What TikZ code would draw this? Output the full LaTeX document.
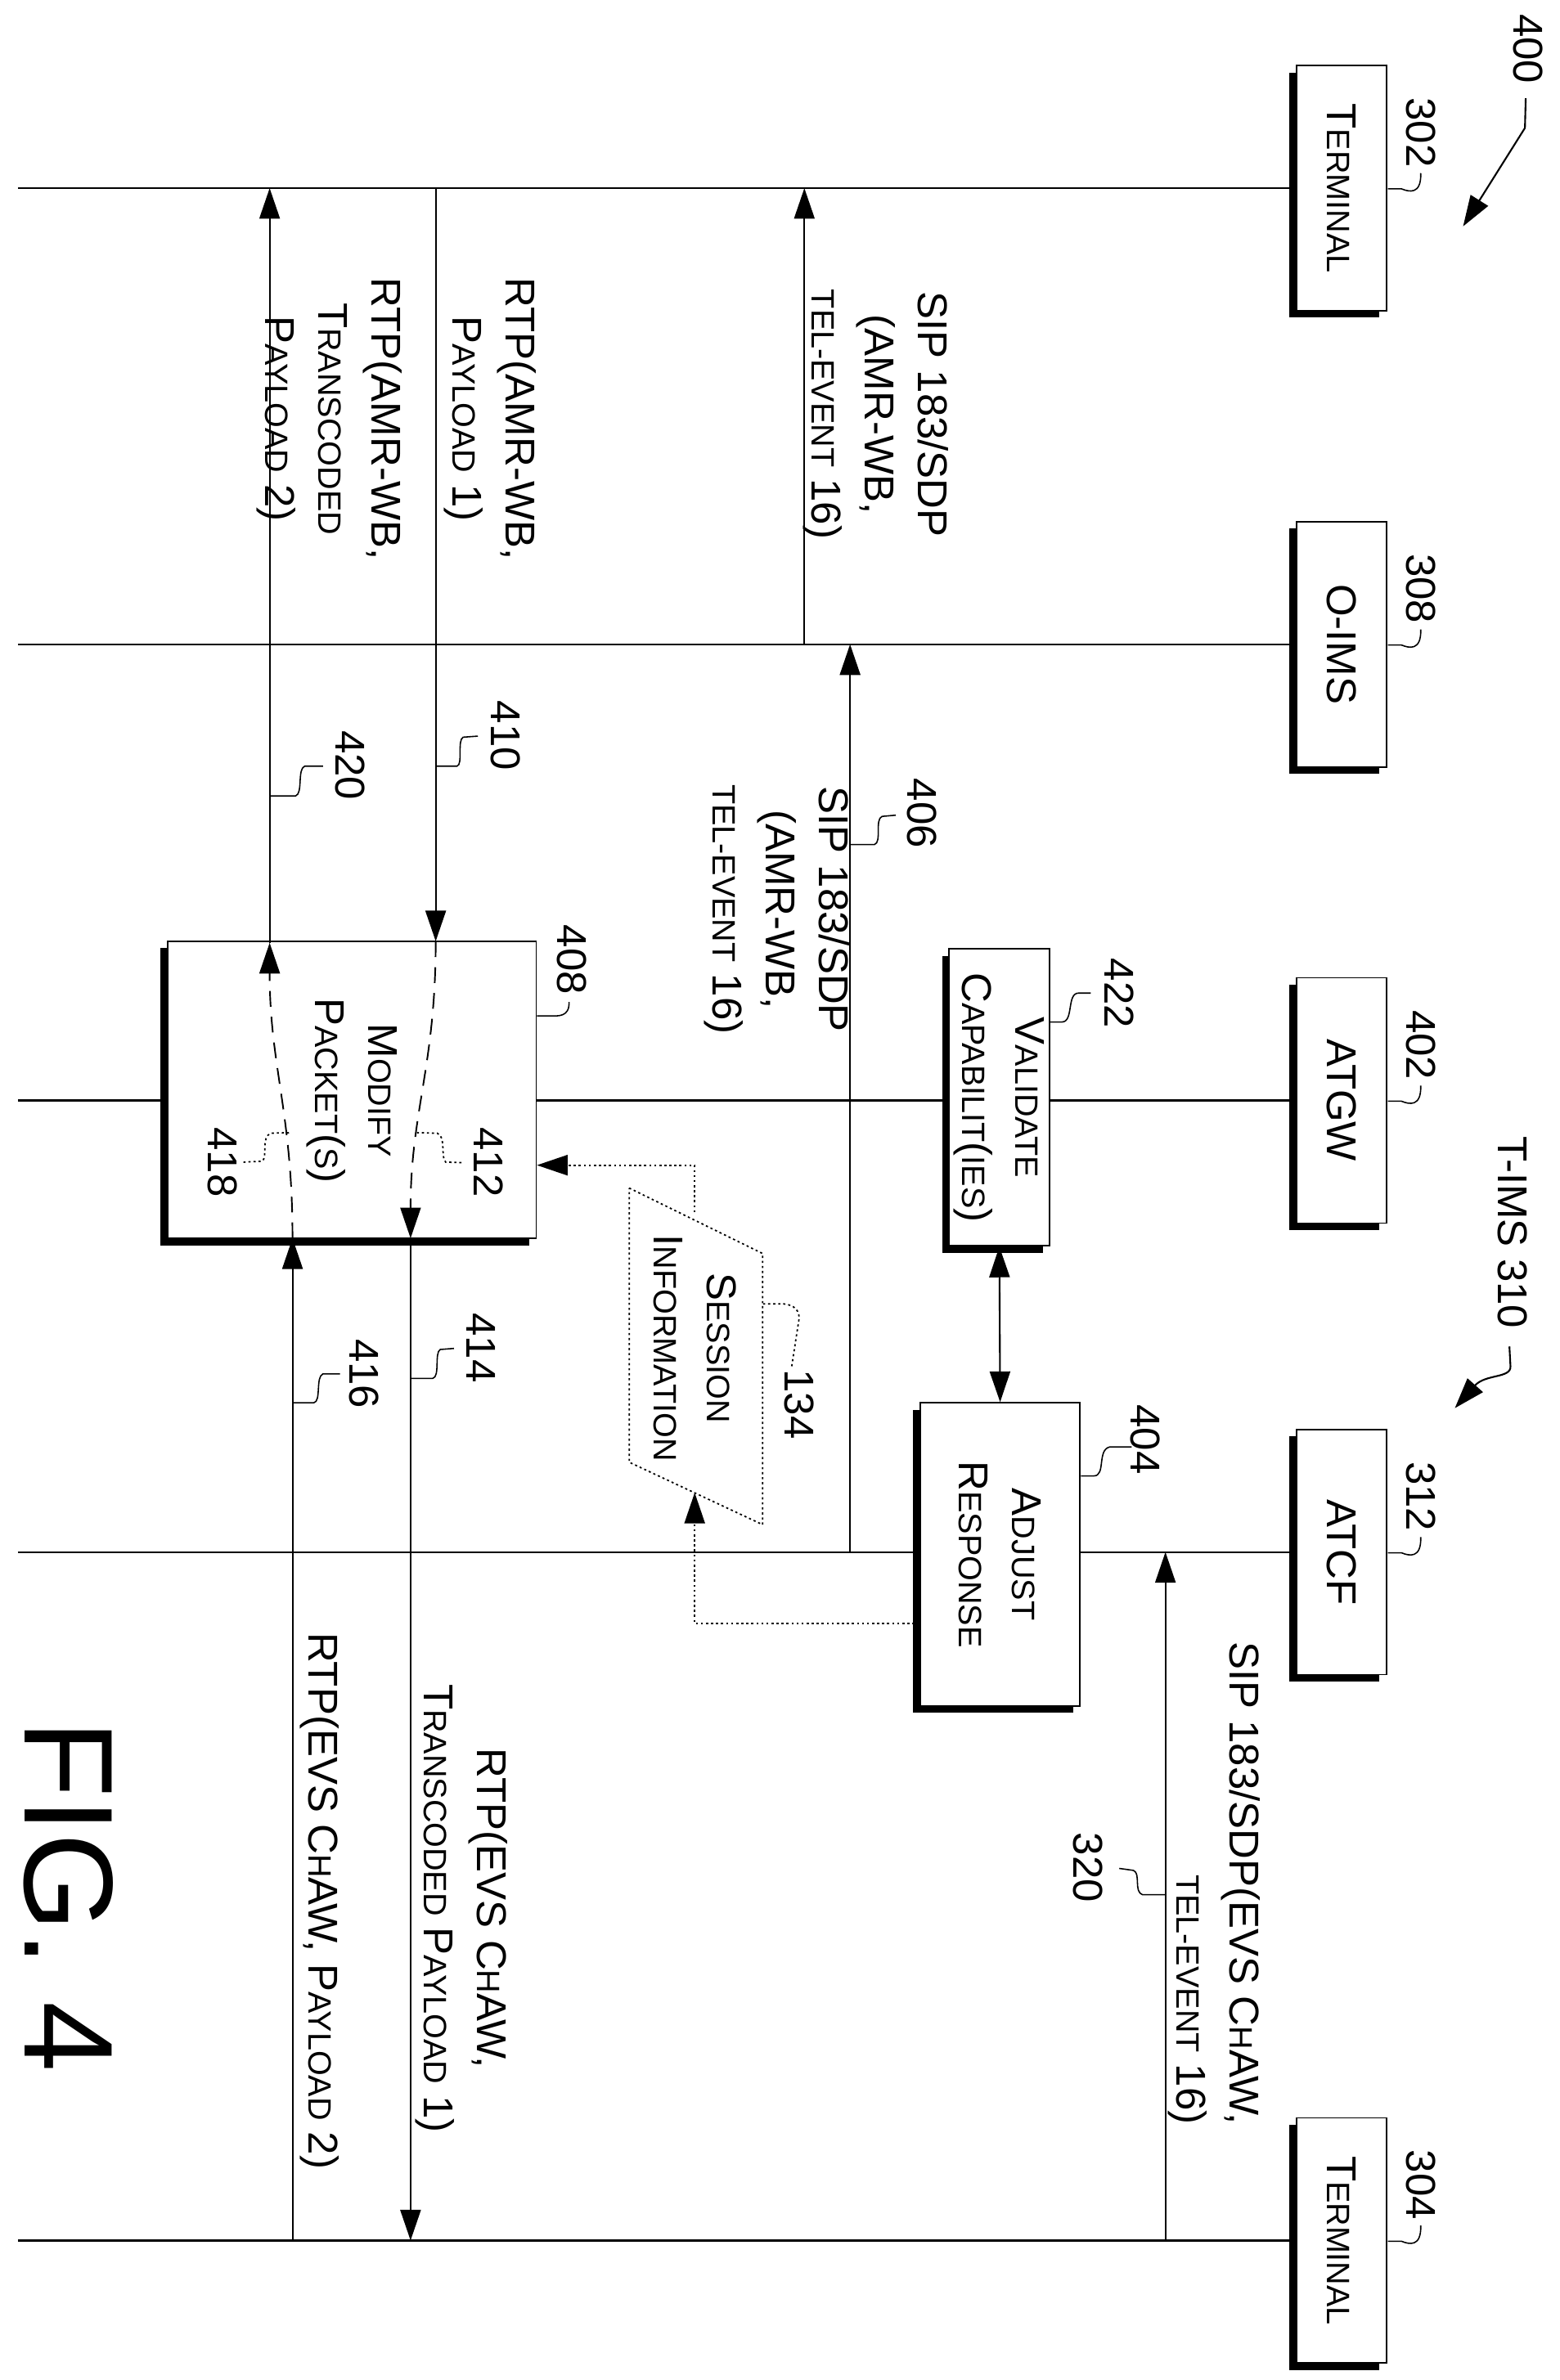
\documentclass[tikz,border=0pt]{standalone}
\usepackage{fontspec}
\setmainfont{Liberation Sans}
\usetikzlibrary{arrows.meta,shadows}
\newcommand\sm[1]{{\fontsize{22.5}{37}\selectfont #1}}
\begin{document}
\begin{tikzpicture}[x=0.037246cm,y=-0.037246cm,
  ln/.style={line width=1.2pt},
  arr/.style={ln,-{Triangle[length=0.75cm,width=0.5cm]}},
  darr/.style={ln,{Triangle[length=0.75cm,width=0.5cm]}-{Triangle[length=0.75cm,width=0.5cm]}},
  dot/.style={line width=1pt,dash pattern=on 1.5pt off 2pt},
  dotarr/.style={dot,-{Triangle[length=0.75cm,width=0.5cm]}},
  dsh/.style={line width=1.1pt,dash pattern=on 11pt off 7pt},
  dasharr/.style={dsh,-{Triangle[length=0.75cm,width=0.5cm]}},
  lead/.style={line width=0.9pt},
  box/.style={draw,fill=white,line width=1pt,inner sep=0,
    general shadow={fill=black,shadow xshift=-0.17cm,shadow yshift=-0.17cm}},
  txt/.style={rotate=-90,align=center,font=\fontsize{29}{37}\selectfont,inner sep=0}]
\useasboundingbox (0,0) rectangle (1024,1562.6);
% lifelines
\foreach \n/\yy in {a/123.5,b/423,c/722.5,d/1019,e/1471}{
  \coordinate (L\n) at (12,\yy);
  \coordinate (R\n) at (851,\yy);
  \draw[ln] (L\n) -- (R\n);
}
% entity boxes
\foreach \n/\yy/\t/\num in {t302/123.5/T\sm{ERMINAL}/302, o308/423/O-IMS/308, g402/722.5/ATGW/402, f312/1019/ATCF/312, t304/1471/T\sm{ERMINAL}/304}{
  \node[box,minimum width=59*0.037246cm,minimum height=161*0.037246cm] (\n) at (880.5,\yy) {};
  \node[txt] at (\n) {\t};
  \node[txt] (n\n) at (933,\yy-36.5) {\num};
  \draw[lead] (932.6,\yy-9.8) .. controls (933,\yy+4.5) and (925,\yy+2.5) .. (920,\yy+0.5) -- (911,\yy+0.5);
}
% figure refs
\node[txt] (n400) at (1003,32) {400};
\coordinate (a400) at (960.4,148.6);
\draw[arr] (1001.5,64.5) -- (1001,84) -- (a400);
\node[txt] (tims) at (993,809) {T-IMS 310};
\coordinate (atims) at (955,924.5);
\draw[arr] (990.8,884) -- (991.5,897) .. controls (992,905) and (975,902) .. (atims);
% process boxes
\node[box,minimum width=242*0.037246cm,minimum height=195*0.037246cm] (b408) at (231,715.5) {};
\node[txt] at (231,716) {M\sm{ODIFY}\\P\sm{ACKET}(\sm{S})};
\node[box,minimum width=66*0.037246cm,minimum height=195*0.037246cm] (b422) at (656,720.5) {};
\node[txt] at (656,720.5) {V\sm{ALIDATE}\\C\sm{APABILIT}(\sm{IES})};
\node[box,minimum width=105*0.037246cm,minimum height=199*0.037246cm] (b404) at (656.5,1020.5) {};
\node[txt] at (656.5,1020.5) {A\sm{DJUST}\\R\sm{ESPONSE}};
\draw[darr] (b422.south) -- (b404.north);
% session information
\draw[dot] (413,780) -- (500.6,823) -- (500.6,1001) -- (413,960) -- cycle;
\node[txt] (sess) at (456,885) {S\sm{ESSION}\\I\sm{NFORMATION}};
\coordinate (s1) at (456,796);
\coordinate (s2) at (456,765);
\coordinate (s3) at (456,1066);
\coordinate (s4) at (456,980);
\draw[dotarr] (s1) -- (s2) -- (b408.east |- s2);
\draw[dotarr] (b404.west |- s3) -- (s3) -- (s4);
\node[txt] (n134) at (524.5,922) {134};
\draw[dot] (519.7,897) -- (524.5,866) .. controls (525,858) and (518,856) .. (512.6,856) -- (500.6,856);
% messages
\coordinate (m1a) at (177,619); \coordinate (m1b) at (177,123.5);
\draw[arr] (m1a) -- (m1b);
\coordinate (m2a) at (286,123.5); \coordinate (m2b) at (286,618);
\draw[arr] (m2a) -- (m2b);
\coordinate (m3a) at (528,423); \coordinate (m3b) at (528,123.5);
\draw[arr] (m3a) -- (m3b);
\coordinate (m4a) at (558,1019); \coordinate (m4b) at (558,423);
\draw[arr] (m4a) -- (m4b);
\coordinate (m5a) at (765,1471); \coordinate (m5b) at (765,1019);
\draw[arr] (m5a) -- (m5b);
\coordinate (m6a) at (269.5,813); \coordinate (m6b) at (269.5,1471);
\draw[arr] (m6a) -- (m6b);
\coordinate (m7a) at (192,1471); \coordinate (m7b) at (192,813);
\draw[arr] (m7a) -- (m7b);
\draw[dasharr] (m2b) .. controls (286,700) and (269.5,730) .. (m6a);
\draw[dasharr] (m7b) .. controls (192,730) and (177,700) .. (m1a);
% message labels
\node[txt] at (575,272) {SIP 183/SDP\\(AMR-WB,\\\sm{TEL-EVENT} 16)};
\node[txt] at (321.5,275) {RTP(AMR-WB,\\P\sm{AYLOAD} 1)};
\node[txt] at (216,275) {RTP(AMR-WB,\\T\sm{RANSCODED}\\P\sm{AYLOAD} 2)};
\node[txt] at (510,597) {SIP 183/SDP\\(AMR-WB,\\\sm{TEL-EVENT} 16)};
\node[txt] at (302.8,1253) {RTP(EVS C\sm{H}AW,\\T\sm{RANSCODED} P\sm{AYLOAD} 1)};
\node[txt] at (210,1248) {RTP(EVS C\sm{H}AW, P\sm{AYLOAD} 2)};
\node[txt,align=right,anchor=east] at (797,1395) {SIP 183/SDP(EVS C\sm{H}AW,\\\sm{TEL-EVENT} 16)};
\node[txt,font=\fontsize{88}{90}\selectfont] (fig) at (45,1245) {FIG. 4};
% reference numbers
\node[txt] (n410) at (332,483) {410};
\draw[lead] (313.7,483.3) -- (304,484) .. controls (300,486) and (304,502) .. (300,503) -- (m2a |- 0,503);
\node[txt] (n420) at (229.7,502.5) {420};
\draw[lead] (212,503) -- (200,503) .. controls (195,505) and (199,521) .. (194,522.6) -- (m1a |- 0,522.6);
\node[txt] (n406) at (605,534) {406};
\draw[lead] (588,535.2) -- (579,536) .. controls (574,538) and (579,553) .. (574,554.5) -- (m4a |- 0,554.5);
\node[txt] (n414) at (316,885) {414};
\draw[lead] (298,885.3) -- (289,886) .. controls (285,888) and (289,904) .. (284,905) -- (m6a |- 0,905);
\node[txt] (n416) at (239,902) {416};
\draw[lead] (223.2,902) -- (212,902) .. controls (207,904) and (211,920) .. (206,921) -- (m7a |- 0,921);
\node[txt] (n320) at (714,1226) {320};
\draw[lead] (734.7,1226.7) -- (744,1228) .. controls (749,1230) and (744,1242) .. (750,1244) -- (m5a |- 0,1244);
\node[txt] (n408) at (375.4,630) {408};
\draw[lead] (373.5,657.8) .. controls (374,668) and (366,667) .. (361,667) -- (b408.east |- 0,667);
\node[txt] (n422) at (734.5,652) {422};
\draw[lead] (716,652) -- (708,652) .. controls (700,652) and (705,671) .. (697,671) -- (b422.east |- 0,671);
\node[txt] (n404) at (752,945) {404};
\draw[lead] (742.8,950) -- (728.4,950) .. controls (720,952) and (726,969) .. (718,969) -- (b404.east |- 0,969);
\node[txt] (n412) at (320.8,763) {412};
\draw[dot] (302.9,763.3) -- (292.6,763) .. controls (289,760) and (293,746) .. (287,744) -- (272.8,743.6);
\node[txt] (n418) at (146,763) {418};
\draw[dot] (159.8,763) -- (172,762.4) .. controls (176,760) and (171,746) .. (178,744) -- (190.8,743.6);
\end{tikzpicture}
\end{document}
